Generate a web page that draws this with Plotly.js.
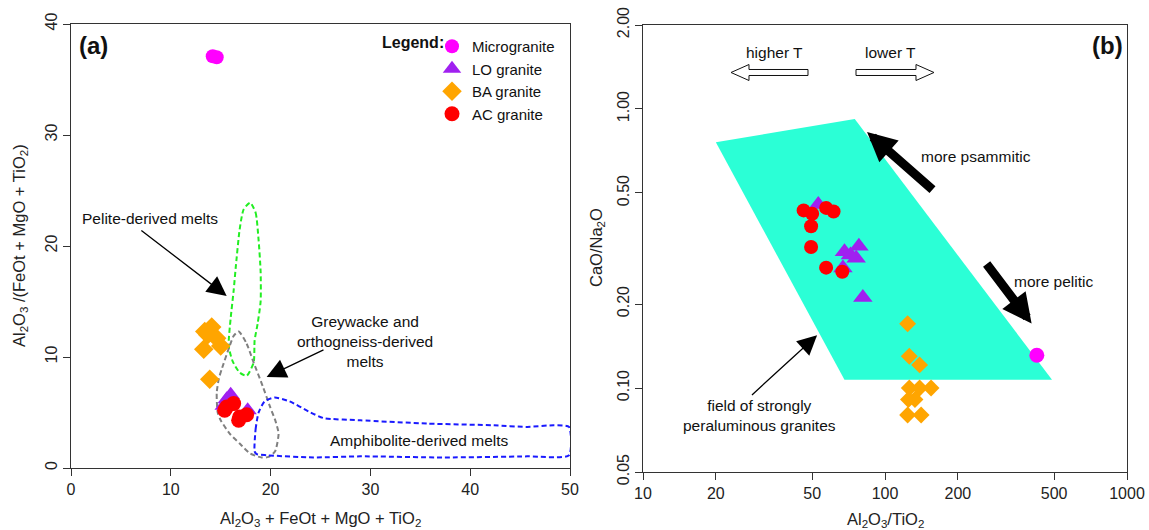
<!DOCTYPE html>
<html>
<head>
<meta charset="utf-8">
<script src="https://cdn.plot.ly/plotly-3.0.1.min.js"></script>
<style>
  html, body { margin: 0; padding: 0; background: #fff; }
  #chart { width: 1149px; height: 530px; }
</style>
</head>
<body>
<div id="chart"></div>
<script>
// ---------- Panel (a): Al2O3/(FeOt+MgO+TiO2) vs Al2O3+FeOt+MgO+TiO2 ----------
const microA_x = [14.2, 14.6];
const microA_y = [37.1, 37.0];

const loA_x = [15.6, 16.0, 17.7, 15.3];
const loA_y = [6.2, 6.6, 5.2, 5.6];

const baA_x = [13.4, 14.1, 14.6, 15.0, 13.3, 13.7, 13.9];
const baA_y = [12.3, 12.7, 11.7, 11.0, 10.7, 12.0, 8.0];

const acA_x = [15.6, 16.3, 16.9, 17.6, 16.8, 15.4];
const acA_y = [5.5, 5.8, 4.6, 4.8, 4.3, 5.2];

// Melt fields (dashed outlines)
const pelite_x = [17.95, 18.5, 18.8, 19.0, 19.0, 18.7, 18.4, 18.3, 17.6, 16.9, 16.2, 15.8, 16.0, 16.3, 16.5, 16.9, 17.3, 17.95];
const pelite_y = [23.9, 23.0, 20.5, 17.7, 15.0, 13.0, 11.5, 9.5, 8.3, 8.6, 9.6, 11.0, 13.5, 16.0, 18.0, 21.5, 23.3, 23.9];

const greywacke_x = [16.8, 17.6, 18.3, 19.2, 19.95, 20.5, 20.8, 20.45, 19.8, 19.1, 17.95, 16.9, 15.9, 15.0, 14.7, 14.6, 14.8, 15.1, 15.9, 16.3, 16.8];
const greywacke_y = [12.3, 11.2, 9.5, 7.4, 5.5, 4.2, 3.1, 1.5, 1.0, 0.95, 1.3, 2.2, 3.1, 4.3, 5.0, 6.75, 8.0, 8.9, 11.0, 11.9, 12.3];

const amphibolite_x = [18.4, 18.5, 18.8, 19.4, 20.4, 21.9, 23.8, 25.3, 29.0, 35.7, 42.4, 45.7, 48.4, 49.9, 49.9, 45.7, 37.4, 29.0, 24.3, 19.6, 18.6, 18.4];
const amphibolite_y = [1.5, 3.5, 5.0, 6.0, 6.35, 6.0, 5.1, 4.5, 4.3, 4.0, 3.85, 3.7, 3.85, 3.7, 1.15, 1.05, 0.95, 1.05, 0.95, 1.15, 1.25, 1.5];

// ---------- Panel (b): CaO/Na2O vs Al2O3/TiO2 ----------
const microB_x = [424];
const microB_y = [0.131];

const loB_x = [53, 68, 78, 76, 72, 67, 81];
const loB_y = [0.455, 0.308, 0.322, 0.292, 0.300, 0.269, 0.211];

const baB_x = [124, 126, 139, 126, 139, 155, 125, 133, 124, 141];
const baB_y = [0.170, 0.130, 0.121, 0.100, 0.100, 0.100, 0.091, 0.091, 0.080, 0.080];

const acB_x = [46.1, 50.0, 49.5, 49.5, 57.1, 61.3, 57.1, 66.6];
const acB_y = [0.433, 0.421, 0.380, 0.320, 0.442, 0.429, 0.270, 0.261];

// Field of strongly peraluminous granites
const field_x = [20, 75, 490, 68, 20];
const field_y = [0.76, 0.92, 0.107, 0.107, 0.76];

// Tick labels
const xTicksA = [0, 10, 20, 30, 40, 50];
const yTicksA = [0, 10, 20, 30, 40];
const xTicksB = [10, 20, 50, 100, 200, 500, 1000];
const xTickTextB = ['10', '20', '50', '100', '200', '500', '1000'];
const yTicksB = [0.05, 0.1, 0.2, 0.5, 1, 2];
const yTickTextB = ['0.05', '0.10', '0.20', '0.50', '1.00', '2.00'];

// ---------- styling ----------
const W = 1149, H = 530;
const FONT = 'Arial, "Liberation Sans", sans-serif';
const C = { micro: '#ff00ff', lo: '#a020f0', ba: '#ffa500', ac: '#ff0000', field: '#2bffd6' };
const L = Math.log10;
const NOTE = 15.5;

function pts(name, xs, ys, color, symbol, size, xa, ya, showleg, rank) {
  return {
    type: 'scatter', mode: 'markers', name: name, x: xs, y: ys,
    xaxis: xa, yaxis: ya, legendgroup: name, showlegend: showleg, legendrank: rank,
    marker: { color: color, symbol: symbol, size: size, line: { width: 0 } },
    hoverinfo: 'x+y'
  };
}
function outline(xs, ys, color) {
  return {
    type: 'scatter', mode: 'lines', x: xs, y: ys, xaxis: 'x', yaxis: 'y',
    showlegend: false, hoverinfo: 'skip',
    line: { color: color, width: 2, dash: '5px,3px', shape: 'spline', smoothing: 0.6 }
  };
}

const traces = [
  outline(pelite_x, pelite_y, '#22ee22'),
  outline(greywacke_x, greywacke_y, '#808080'),
  outline(amphibolite_x, amphibolite_y, '#1a1aff'),
  pts('BA granite', baA_x, baA_y, C.ba, 'diamond', 15, 'x', 'y', true, 3),
  pts('LO granite', loA_x, loA_y, C.lo, 'triangle-up', 16, 'x', 'y', true, 2),
  pts('AC granite', acA_x, acA_y, C.ac, 'circle', 15, 'x', 'y', true, 4),
  pts('Microgranite', microA_x, microA_y, C.micro, 'circle', 14, 'x', 'y', true, 1),
  {
    type: 'scatter', mode: 'lines', x: field_x, y: field_y, xaxis: 'x2', yaxis: 'y2',
    fill: 'toself', fillcolor: C.field, line: { width: 0, color: C.field },
    showlegend: false, hoverinfo: 'skip'
  },
  pts('BA granite', baB_x, baB_y, C.ba, 'diamond', 13, 'x2', 'y2', false, 3),
  pts('LO granite', loB_x, loB_y, C.lo, 'triangle-up', 17, 'x2', 'y2', false, 2),
  pts('AC granite', acB_x, acB_y, C.ac, 'circle', 14, 'x2', 'y2', false, 4),
  pts('Microgranite', microB_x, microB_y, C.micro, 'circle', 15, 'x2', 'y2', false, 1)
];

const axisBase = {
  showgrid: false, zeroline: false, showline: true, mirror: true,
  linecolor: '#333', linewidth: 1, ticks: 'outside', ticklen: 7, tickwidth: 1, tickcolor: '#333',
  tickfont: { family: FONT, size: 16, color: '#222' }, fixedrange: true
};

function txt(text, x, y, xref, yref, opts) {
  return Object.assign({
    text: text, x: x, y: y, xref: xref, yref: yref, showarrow: false,
    xanchor: 'center', yanchor: 'middle',
    font: { family: FONT, size: NOTE, color: '#111' }
  }, opts || {});
}
function arrow(x, y, ax, ay, xref, yref, opts) {
  return Object.assign({
    text: '', x: x, y: y, ax: ax, ay: ay, xref: xref, yref: yref, axref: xref, ayref: yref,
    showarrow: true, arrowhead: 2, arrowsize: 3, arrowwidth: 1.3, arrowcolor: '#000'
  }, opts || {});
}
const titleFont = { family: FONT, size: 16.5, color: '#222' };

const annotations = [
  // panel (a)
  txt('<b>(a)</b>', 0.6, 38.1, 'x', 'y', { xanchor: 'left', font: { family: FONT, size: 24, color: '#111' } }),
  txt('<b>Legend:</b>', 446 / W, 1 - 43 / H, 'paper', 'paper', { xanchor: 'right', font: { family: FONT, size: 16, color: '#111' } }),
  txt('Pelite-derived melts', 7.9, 22.5, 'x', 'y'),
  arrow(15.6, 15.5, 6.9, 21.5, 'x', 'y'),
  txt('Greywacke and<br>orthogneiss-derived<br>melts', 29.5, 11.4, 'x', 'y'),
  arrow(19.6, 8.2, 25.45, 10.7, 'x', 'y'),
  txt('Amphibolite-derived melts', 34.9, 2.45, 'x', 'y'),
  // panel (b)
  txt('<b>(b)</b>', L(980), L(1.69), 'x2', 'y2', { xanchor: 'right', font: { family: FONT, size: 24, color: '#111' } }),
  txt('higher T', L(34.8), L(1.59), 'x2', 'y2'),
  txt('lower T', L(104.9), L(1.59), 'x2', 'y2'),
  txt('more psammitic', L(237.7), L(0.678), 'x2', 'y2'),
  arrow(L(84.3), L(0.827), L(159.4), L(0.508), 'x2', 'y2', { arrowwidth: 9, arrowsize: 0.65 }),
  txt('more pelitic', L(499), L(0.2417), 'x2', 'y2'),
  arrow(L(403.5), L(0.1704), L(260.2), L(0.2818), 'x2', 'y2', { arrowwidth: 9, arrowsize: 0.65 }),
  txt('field of strongly<br>peraluminous granites', L(30.4), L(0.0794), 'x2', 'y2'),
  arrow(L(52.4), L(0.1545), L(27.8), L(0.0934), 'x2', 'y2'),
  // axis titles
  txt('Al<sub>2</sub>O<sub>3</sub> + FeOt + MgO + TiO<sub>2</sub>', 320.5 / W, 1 - 519 / H, 'paper', 'paper', { font: titleFont }),
  txt('Al<sub>2</sub>O<sub>3</sub> /(FeOt + MgO + TiO<sub>2</sub>)', 20 / W, 1 - 246 / H, 'paper', 'paper', { textangle: -90, font: titleFont }),
  txt('Al<sub>2</sub>O<sub>3</sub>/TiO<sub>2</sub>', 885 / W, 1 - 520 / H, 'paper', 'paper', { font: titleFont }),
  txt('CaO/Na<sub>2</sub>O', 597 / W, 1 - 248 / H, 'paper', 'paper', { textangle: -90, font: titleFont })
];

// hollow block arrows for the temperature trend (paper coordinates)
function P(px, py) { return (px / W).toFixed(5) + ',' + (1 - py / H).toFixed(5); }
function blockArrow(tail, tip, cy) {
  const dir = tip > tail ? 1 : -1;
  const hb = tip - dir * 18, sh = 3, hh = 8;
  return 'M' + P(tip, cy) + ' L' + P(hb, cy - hh) + ' L' + P(hb, cy - sh) + ' L' + P(tail, cy - sh) +
         ' L' + P(tail, cy + sh) + ' L' + P(hb, cy + sh) + ' L' + P(hb, cy + hh) + ' Z';
}
const shapes = [
  { type: 'path', xref: 'paper', yref: 'paper', path: blockArrow(808, 731, 72.5), fillcolor: '#fff', line: { color: '#111', width: 1 } },
  { type: 'path', xref: 'paper', yref: 'paper', path: blockArrow(856, 934, 72.5), fillcolor: '#fff', line: { color: '#111', width: 1 } }
];

const layout = {
  width: W, height: H,
  margin: { l: 0, r: 0, t: 0, b: 0 },
  paper_bgcolor: '#fff', plot_bgcolor: '#fff',
  font: { family: FONT, color: '#111' },
  xaxis: Object.assign({}, axisBase, { domain: [71 / W, 570 / W], range: [0, 50], tickvals: xTicksA, anchor: 'y' }),
  yaxis: Object.assign({}, axisBase, { domain: [1 - 468 / H, 1 - 24 / H], range: [0, 40], tickvals: yTicksA, tickangle: -90, anchor: 'x' }),
  xaxis2: Object.assign({}, axisBase, { domain: [643 / W, 1127 / W], type: 'log', range: [1, 3], tickvals: xTicksB, ticktext: xTickTextB, anchor: 'y2' }),
  yaxis2: Object.assign({}, axisBase, { domain: [1 - 472 / H, 1 - 25 / H], type: 'log', range: [L(0.05), L(2)], tickvals: yTicksB, ticktext: yTickTextB, tickangle: -90, anchor: 'x2' }),
  showlegend: true,
  legend: {
    x: 432 / W, y: 1 - 30 / H, xanchor: 'left', yanchor: 'top',
    bgcolor: 'rgba(0,0,0,0)', borderwidth: 0,
    font: { family: FONT, size: 15, color: '#111' },
    itemclick: false, itemdoubleclick: false, tracegroupgap: 0
  },
  annotations: annotations,
  shapes: shapes
};

Plotly.newPlot('chart', traces, layout, { displayModeBar: false, staticPlot: true });
</script>
</body>
</html>
